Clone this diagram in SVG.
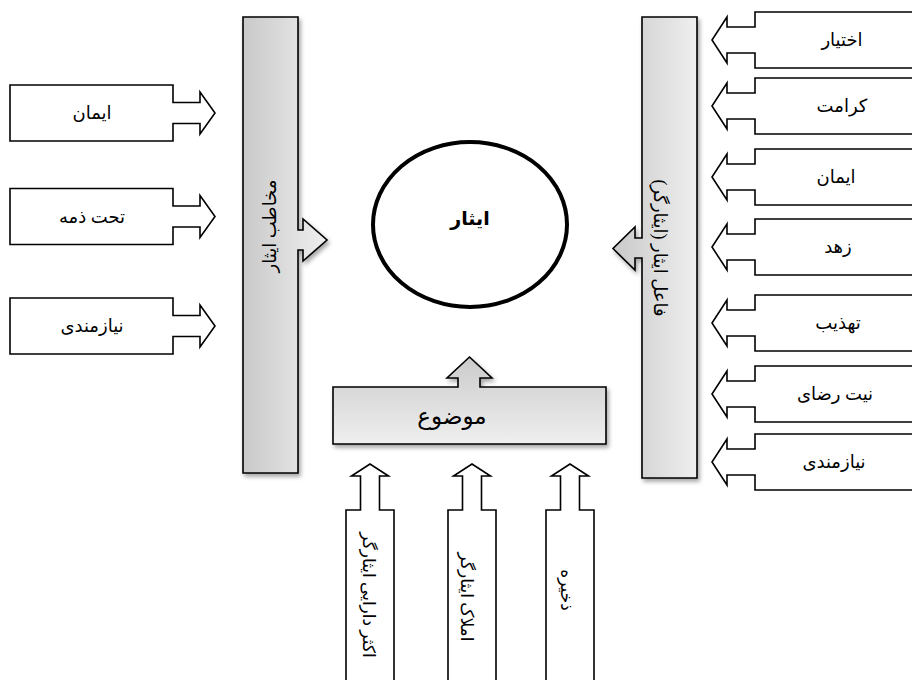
<svg xmlns="http://www.w3.org/2000/svg" width="912" height="680" viewBox="0 0 912 680">
<style>
.box{fill:#ffffff;stroke:#000;stroke-width:1.6;stroke-linejoin:miter}
.gray{stroke:#000;stroke-width:1.6}
.t{font-family:'Liberation Serif','DejaVu Sans',serif;font-size:18px;fill:#000;text-anchor:middle;dominant-baseline:central}
.tb{font-family:'Liberation Serif','DejaVu Sans',serif;font-size:17px;fill:#000;text-anchor:middle;dominant-baseline:central}
</style>
<defs>
<linearGradient id="gh" x1="0" y1="0" x2="1" y2="0">
<stop offset="0" stop-color="#c9c9c9"/>
<stop offset="1" stop-color="#efefef"/>
</linearGradient>
<linearGradient id="gv" x1="0" y1="0" x2="0" y2="1">
<stop offset="0" stop-color="#cbcbcb"/>
<stop offset="1" stop-color="#efefef"/>
</linearGradient>
<filter id="sh" x="-20%" y="-10%" width="140%" height="120%">
<feDropShadow dx="2" dy="3" stdDeviation="2" flood-color="#000" flood-opacity="0.35"/>
</filter>
<path id="la" d="M10,-28 H173 V-10.5 H200 V-21 L215,0 L200,21 V10.5 H173 V28 H10 Z"/>
<path id="ra" d="M920,-28 H755 V-13 H727 V-23 L712,0 L727,23 V13 H755 V28 H920 Z"/>
<path id="ua" d="M-24,690 V510 H-9.5 V476 H-18.5 L0,464 L18.5,476 H9.5 V510 H24 V690 Z"/>
</defs>

<g id="center">
<ellipse cx="470" cy="224.5" rx="97" ry="82.5" fill="#fff" stroke="#000" stroke-width="4"/>
<text x="470" y="218" class="t" style="font-weight:bold;font-size:19px">ایثار</text>
</g>

<g id="connectors">
<g id="bar-left" filter="url(#sh)">
<path class="gray" fill="url(#gh)" d="M243,17 H298 V230 H303 V219 L327,240 L303,261 V250 H298 V473 H243 Z"/>
</g>
<g id="bar-right" filter="url(#sh)">
<path class="gray" fill="url(#gh)" d="M642,17 H697 V478 H642 V258 H635 V270 L613,248.5 L635,227 V238 H642 Z"/>
</g>
<g id="subject" filter="url(#sh)">
<path class="gray" fill="url(#gv)" d="M333,387 H458 V378 H447 L469.5,357 L492,378 H480 V387 H606 V444 H333 Z"/>
</g>
</g>
<text class="t" transform="translate(270,226) rotate(-90)">مخاطب ایثار</text>
<text class="t" transform="translate(660,248) rotate(90)">فاعل ایثار (ایثارگر)</text>
<text class="t" x="452" y="416" style="font-size:23px">موضوع</text>

<g id="left-1"><use href="#la" class="box" transform="translate(0,113)"/><text class="t" x="92" y="113">ایمان</text></g>
<g id="left-2"><use href="#la" class="box" transform="translate(0,216.5)"/><text class="t" x="92" y="216.5">تحت ذمه</text></g>
<g id="left-3"><use href="#la" class="box" transform="translate(0,326)"/><text class="t" x="92" y="326">نیازمندی</text></g>

<g id="right-1"><use href="#ra" class="box" transform="translate(0,40)"/><text class="t" x="842" y="40">اختیار</text></g>
<g id="right-2"><use href="#ra" class="box" transform="translate(0,106)"/><text class="t" x="842" y="106">کرامت</text></g>
<g id="right-3"><use href="#ra" class="box" transform="translate(0,177)"/><text class="t" x="836" y="177">ایمان</text></g>
<g id="right-4"><use href="#ra" class="box" transform="translate(0,247)"/><text class="t" x="838" y="247">زهد</text></g>
<g id="right-5"><use href="#ra" class="box" transform="translate(0,323)"/><text class="t" x="838" y="323">تهذیب</text></g>
<g id="right-6"><use href="#ra" class="box" transform="translate(0,394)"/><text class="t" x="835" y="394">نیت رضای</text></g>
<g id="right-7"><use href="#ra" class="box" transform="translate(0,462)"/><text class="t" x="834" y="462">نیازمندی</text></g>

<g id="bottom-1"><use href="#ua" class="box" transform="translate(370,0)"/><text class="tb" transform="translate(368,595) rotate(90)">اکثر دارایی ایثارگر</text></g>
<g id="bottom-2"><use href="#ua" class="box" transform="translate(472,0)"/><text class="tb" transform="translate(466,597) rotate(90)">املاک ایثارگر</text></g>
<g id="bottom-3"><use href="#ua" class="box" transform="translate(570,0)"/><text class="tb" transform="translate(566,590) rotate(90)">ذخیره</text></g>
</svg>
